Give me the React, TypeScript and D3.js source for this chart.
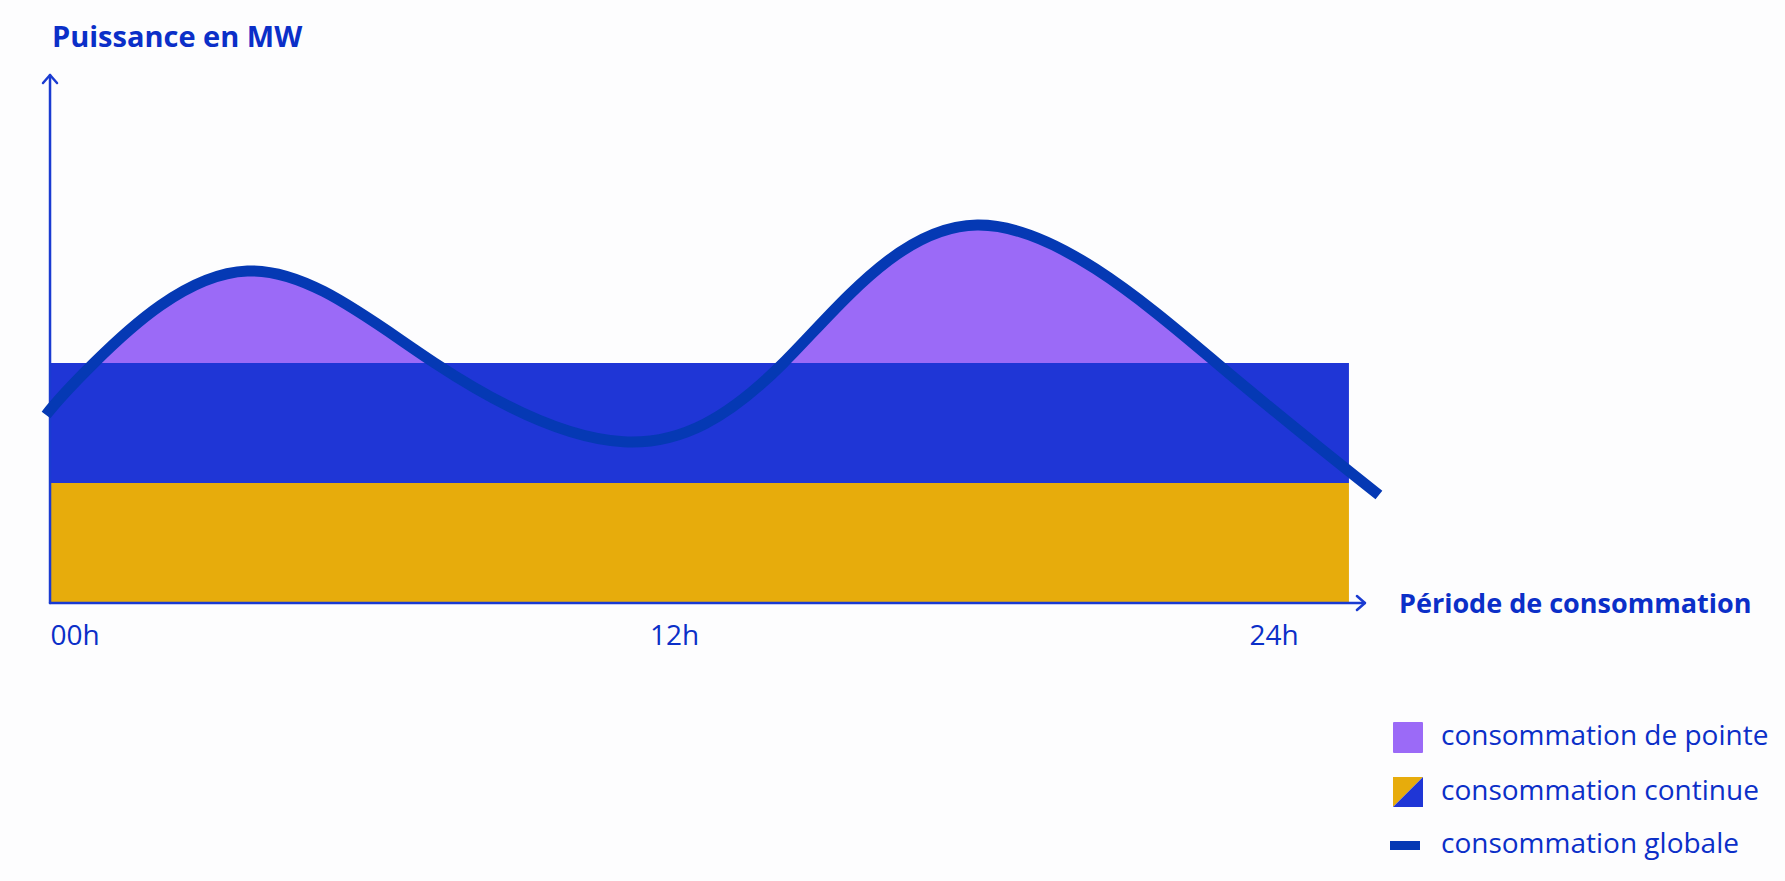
import * as d3 from "d3";
import * as React from "react";

// hours of the day (x) and global demand (y, MW)
const hours = [-0.58, 0.38, 3.45, 7.2, 10.98, 14.18, 18.06, 22.85, 26.1];
const demand = [47, 60, 83, 60, 40.3, 60, 94.5, 60, 27];

// continuous consumption bands [from, to] in MW
const bandNames = ["base", "continue"];
const bandBounds = [
  [0, 30],
  [30, 60],
];
const bandColors = ["#e7ac0c", "#1f36d6"];
const periodSpan = [-0.5, 25.5];
const xAxisEnd = 25.82;
const yAxisTop = 132;

const tickHours = [0, 12, 24];
const tickLabels = ["00h", "12h", "24h"];

const legendLabels = ["consommation de pointe", "consommation continue", "consommation globale"];

const PURPLE = "#9b6af7";
const LINE = "#0539b4";
const AXIS = "#1a3bd1";
const TEXT = "#0b2fc8";
const FONT = "'Open Sans', sans-serif";

export default function App() {
  const W = 1785,
    H = 881;
  const x = d3.scaleLinear().domain([0, 24]).range([75, 1274]);
  const y = d3.scaleLinear().domain([0, yAxisTop]).range([603, 75]);

  const pts: [number, number][] = hours.map((h, i) => [h, demand[i]]);
  const peakBase = bandBounds[1][1];

  const curve = d3.curveNatural;
  const line = d3
    .line<[number, number]>()
    .x((d) => x(d[0]))
    .y((d) => y(d[1]))
    .curve(curve);
  const area = d3
    .area<[number, number]>()
    .x((d) => x(d[0]))
    .y0(y(peakBase))
    .y1((d) => y(d[1]))
    .curve(curve);

  const x0 = x(periodSpan[0]);
  const x1 = x(periodSpan[1]);
  const oy = y(0);
  const xEnd = x(xAxisEnd);
  const yTop = y(yAxisTop);

  const lx = 1393;
  const rowY = [737, 792, 845];

  return (
    <svg
      width={W}
      height={H}
      style={{ position: "absolute", left: 0, top: 0, background: "#fdfdfe" }}
    >
      <defs>
        <clipPath id="peakClip">
          <rect x={x0} y={0} width={x1 - x0} height={y(peakBase)} />
        </clipPath>
      </defs>

      {/* peak consumption */}
      <path d={area(pts) || ""} fill={PURPLE} clipPath="url(#peakClip)" />

      {/* continuous bands */}
      {bandBounds.map((b, i) => (
        <rect
          key={bandNames[i]}
          x={x0}
          y={y(b[1])}
          width={x1 - x0}
          height={y(b[0]) - y(b[1])}
          fill={bandColors[i]}
        />
      ))}

      {/* axes */}
      <g stroke={AXIS} strokeWidth={2.5} fill="none" strokeLinecap="round" strokeLinejoin="round">
        <line x1={x0} y1={oy} x2={x0} y2={yTop} />
        <path d={`M${x0 - 7},${yTop + 8}L${x0},${yTop}L${x0 + 7},${yTop + 8}`} />
        <line x1={x0} y1={oy} x2={xEnd} y2={oy} />
        <path d={`M${xEnd - 8},${oy - 7}L${xEnd},${oy}L${xEnd - 8},${oy + 7}`} />
      </g>

      {/* global consumption */}
      <path d={line(pts) || ""} fill="none" stroke={LINE} strokeWidth={11} />

      {/* titles */}
      <text x={52} y={47} fill={TEXT} fontFamily={FONT} fontWeight={700} fontSize={29}>
        Puissance en MW
      </text>
      <text x={1399} y={613} fill={TEXT} fontFamily={FONT} fontWeight={700} fontSize={27}>
        Période de consommation
      </text>

      {/* ticks */}
      {tickHours.map((h, i) => (
        <text
          key={tickLabels[i]}
          x={x(h)}
          y={645}
          textAnchor="middle"
          fill={TEXT}
          fontFamily={FONT}
          fontSize={28}
        >
          {tickLabels[i]}
        </text>
      ))}

      {/* legend */}
      <rect x={lx} y={rowY[0] - 15} width={30} height={31} fill={PURPLE} rx={1} />
      <path d={`M${lx},${rowY[1] - 15}h30L${lx},${rowY[1] + 15}Z`} fill={bandColors[0]} />
      <path d={`M${lx + 30},${rowY[1] - 15}v30h-30Z`} fill={bandColors[1]} />
      <rect x={lx - 3} y={rowY[2] - 4} width={30} height={9} fill={LINE} />
      {legendLabels.map((t, i) => (
        <text
          key={t}
          x={1441}
          y={rowY[i] + 8}
          fill={TEXT}
          fontFamily={FONT}
          fontSize={28}
        >
          {t}
        </text>
      ))}
    </svg>
  );
}
